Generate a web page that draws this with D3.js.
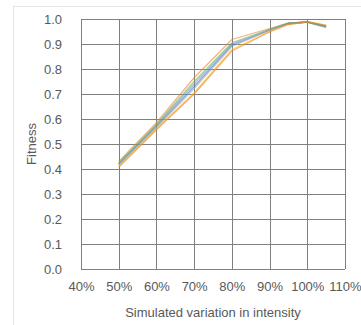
<!DOCTYPE html>
<html><head><meta charset="utf-8">
<script src="https://cdn.jsdelivr.net/npm/d3@7"></script>
<style>
html,body{margin:0;padding:0;background:#fff;}
svg{display:block;font-family:"Liberation Sans",Arial,sans-serif;}
</style></head>
<body>
<svg id="chart" width="361" height="325"></svg>
<script>
const xValues = [0.5, 0.6, 0.7, 0.8, 0.9, 0.95, 1.0, 1.05];
const seriesNames = ["S1","S2","S3","S4","S5","S6","S7"];
const seriesColors = ["#ED7D31","#4472C4","#A5A5A5","#FFC000","#5B9BD5","#70AD47","#ED7D31"];
const s1 = [0.430, 0.585, 0.765, 0.918, 0.962, 0.984, 0.988, 0.970];
const s2 = [0.420, 0.570, 0.730, 0.895, 0.955, 0.982, 0.988, 0.968];
const s3 = [0.415, 0.565, 0.722, 0.890, 0.954, 0.980, 0.987, 0.965];
const s4 = [0.410, 0.560, 0.705, 0.878, 0.950, 0.980, 0.989, 0.975];
const s5 = [0.420, 0.575, 0.740, 0.900, 0.957, 0.982, 0.988, 0.970];
const s6 = [0.425, 0.578, 0.750, 0.905, 0.959, 0.983, 0.988, 0.971];
const s7 = [0.407, 0.557, 0.700, 0.872, 0.948, 0.978, 0.989, 0.974];
const seriesValues = [s1, s2, s3, s4, s5, s6, s7];
const xTicks = [0.4, 0.5, 0.6, 0.7, 0.8, 0.9, 1.0, 1.1];
const yTicks = [0, 0.1, 0.2, 0.3, 0.4, 0.5, 0.6, 0.7, 0.8, 0.9, 1.0];
const xTitle = "Simulated variation in intensity";
const yTitle = "Fitness";

const svg = d3.select("#chart");
const m = {left: 81, right: 345, top: 19, bottom: 269};
const x = d3.scaleLinear().domain([0.4, 1.1]).range([m.left, m.right]);
const y = d3.scaleLinear().domain([0, 1]).range([m.bottom, m.top]);
const txt = "#595959";

// outer chart border
svg.append("rect").attr("x", 13.5).attr("y", 6.5).attr("width", 360).attr("height", 330)
  .attr("fill", "none").attr("stroke", "#e3e3e3");

// gridlines
const g = svg.append("g");
g.selectAll(".hg").data(yTicks).join("line")
  .attr("x1", m.left).attr("x2", m.right)
  .attr("y1", d => Math.round(y(d)) + 0.5).attr("y2", d => Math.round(y(d)) + 0.5)
  .attr("stroke", "#808080").attr("stroke-width", 1);
g.selectAll(".vg").data(xTicks).join("line")
  .attr("y1", m.top).attr("y2", m.bottom)
  .attr("x1", d => Math.round(x(d)) + 0.5).attr("x2", d => Math.round(x(d)) + 0.5)
  .attr("stroke", "#808080").attr("stroke-width", 1);

// axes labels via d3 axes
const yAxis = d3.axisLeft(y).tickValues(yTicks).tickFormat(d3.format(".1f")).tickSize(0).tickPadding(0);
const ya = svg.append("g").attr("transform", `translate(${62},0)`).call(yAxis);
ya.select(".domain").remove();
ya.selectAll("text").attr("fill", txt).style("font-size", "13px").attr("font-family", "Liberation Sans, Arial, sans-serif");

const xAxis = d3.axisBottom(x).tickValues(xTicks).tickFormat(d3.format(".0%")).tickSize(0).tickPadding(0);
const xa = svg.append("g").attr("transform", `translate(0,${282})`).call(xAxis);
xa.select(".domain").remove();
xa.selectAll("text").attr("fill", txt).style("font-size", "13px").attr("font-family", "Liberation Sans, Arial, sans-serif");

// titles
svg.append("text").attr("x", (m.left + m.right) / 2).attr("y", 317)
  .attr("text-anchor", "middle").attr("fill", txt).style("font-size", "13px").text(xTitle);
svg.append("text").attr("transform", `translate(36,${(m.top + m.bottom) / 2}) rotate(-90)`)
  .attr("text-anchor", "middle").attr("fill", txt).style("font-size", "13px").text(yTitle);

// lines
const line = d3.line().x((d, i) => x(xValues[i])).y(d => y(d));
svg.append("g").selectAll("path").data(seriesValues).join("path")
  .attr("d", d => line(d))
  .attr("fill", "none")
  .attr("stroke", (d, i) => seriesColors[i])
  .attr("stroke-width", 1.3)
  .attr("stroke-opacity", 0.6);
</script>
</body></html>
